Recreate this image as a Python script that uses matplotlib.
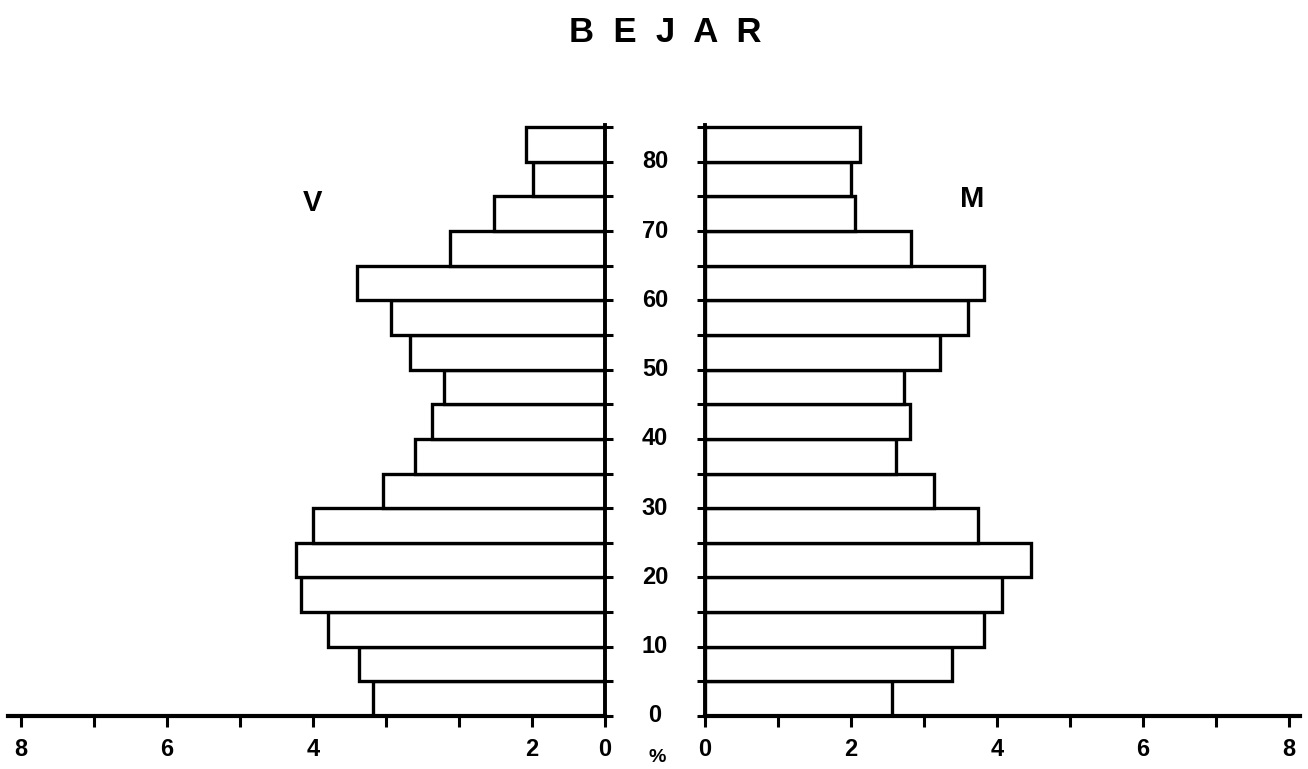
import matplotlib
matplotlib.use("Agg")
import matplotlib.pyplot as plt

plt.rcParams['font.family'] = ['Liberation Sans', 'DejaVu Sans']
plt.rcParams['font.weight'] = 'bold'

# grupos de edad (limite inferior de cada intervalo de 5 años)
edades = [0, 5, 10, 15, 20, 25, 30, 35, 40, 45, 50, 55, 60, 65, 70, 75, 80]
# porcentaje de varones (V) y mujeres (M)
varones = [3.18, 3.37, 3.79, 4.16, 4.23, 4.00, 3.04, 2.60, 2.37, 2.21,
           2.67, 2.93, 3.40, 2.12, 1.52, 0.99, 1.08]
mujeres = [2.56, 3.38, 3.82, 4.07, 4.47, 3.74, 3.14, 2.62, 2.81, 2.73,
           3.22, 3.60, 3.82, 2.82, 2.05, 2.00, 2.12]

edad_ticks = list(range(0, 90, 5))
edad_labels = [0, 10, 20, 30, 40, 50, 60, 70, 80]
pct_ticks = list(range(0, 9))
# etiquetas del eje izquierdo tal como aparecen en el original
izq_labels = ['0', '2', '', '', '4', '', '6', '', '8']
der_labels = ['0', '', '2', '', '4', '', '6', '', '8']

W, H = 1308, 769
fig = plt.figure(figsize=(W / 100, H / 100), dpi=100)

y0 = 1 - 716 / H
h = 591 / H
ax_l = fig.add_axes([8 / W, y0, 597 / W, h])
ax_r = fig.add_axes([705 / W, y0, 595 / W, h])

lw = 2.4
ax_l.barh(edades, varones, height=5, align='edge', color='white',
          edgecolor='black', linewidth=lw)
ax_r.barh(edades, mujeres, height=5, align='edge', color='white',
          edgecolor='black', linewidth=lw)

ax_l.set_xlim(8.178, 0)
ax_r.set_xlim(0, 8.15)
for ax in (ax_l, ax_r):
    ax.set_ylim(0, 85.3)
    ax.spines['top'].set_visible(False)
    ax.spines['bottom'].set_linewidth(3)
    ax.set_yticks(edad_ticks)
    ax.set_yticklabels([])
    ax.set_xticks(pct_ticks)
    ax.tick_params(axis='x', direction='out', length=8, width=2.2,
                   pad=8, labelsize=17)
    ax.tick_params(axis='y', direction='out', length=6, width=2.2)
    ax.patch.set_alpha(0)

ax_l.spines['left'].set_visible(False)
ax_l.spines['right'].set_linewidth(2.8)
ax_l.yaxis.tick_right()
ax_l.set_xticklabels(izq_labels)

ax_r.spines['right'].set_visible(False)
ax_r.spines['left'].set_linewidth(2.8)
ax_r.set_xticklabels(der_labels)

for e in edad_labels:
    ax_r.text(-0.685, e, str(e), ha='center', va='center', fontsize=17,
              fontweight='bold', clip_on=False)

fig.text(657 / W, 1 - 758 / H, '%', ha='center', va='center',
         fontsize=14, fontweight='bold')
fig.text(665 / W, 1 - 32 / H, 'B  E  J  A  R', ha='center', va='center',
         fontsize=25, fontweight='bold')
fig.text(312 / W, 1 - 203 / H, 'V', ha='center', va='center',
         fontsize=21, fontweight='bold')
fig.text(972 / W, 1 - 199 / H, 'M', ha='center', va='center',
         fontsize=21, fontweight='bold')

fig.savefig('out.png', dpi=100, facecolor='white')
